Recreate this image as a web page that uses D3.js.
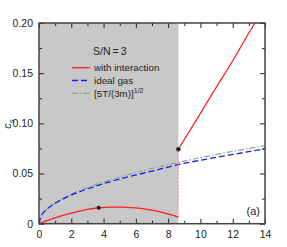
<!DOCTYPE html>
<html>
<head>
<meta charset="utf-8">
<script src="https://cdn.jsdelivr.net/npm/d3@7"></script>
<style>
  body { margin: 0; background: #fff; }
  text { font-family: "Liberation Sans", Arial, sans-serif; }
</style>
</head>
<body>
<div id="chart"></div>
<script>
var tCrit = 8.63;

var interTempLow = [0, 0.5, 1, 1.5, 2, 2.5, 3, 3.7, 4.5, 5.2, 6, 6.8, 7.5, 8.1, 8.63];
var interSpeedLow = [0, 0.0030, 0.0058, 0.0083, 0.0106, 0.0126, 0.0143, 0.0159, 0.0166, 0.0166, 0.0157, 0.0140, 0.0118, 0.0092, 0.0065];

var interTempHigh = [8.63, 10, 11, 12, 13, 13.5];
var interSpeedHigh = [0.0742, 0.1100, 0.1365, 0.1624, 0.1900, 0.2035];

var gasTemp = [0, 0.1, 0.25, 0.5, 1, 1.5, 2, 3, 4, 5, 6, 7, 8.63, 10, 11, 12, 13, 14];
var idealSpeed = [0, 0.0068, 0.0105, 0.0146, 0.0204, 0.0248, 0.0285, 0.0347, 0.0399, 0.0445, 0.0486, 0.0524, 0.0590, 0.0632, 0.0662, 0.0690, 0.0718, 0.0745];
var sqrtSpeed = [0, 0.0066, 0.0104, 0.0147, 0.0208, 0.0255, 0.0294, 0.0360, 0.0416, 0.0465, 0.0510, 0.0550, 0.0611, 0.0658, 0.0690, 0.0720, 0.0750, 0.0778];

var dotTemps = [3.7, 8.63];
var dotSpeeds = [0.0159, 0.0742];

var xTicks = [0, 2, 4, 6, 8, 10, 12, 14];
var yTicks = [0, 0.05, 0.10, 0.15, 0.20];
var yTickLabels = ["0", "0.05", "0.10", "0.15", "0.20"];

var legendNames = ["with interaction", "ideal gas", "[5T/(3m)]"];

drawChart();

function drawChart() {
    var svgWidth = 287;
    var svgHeight = 247;
    var margin = { top: 23, right: 22, bottom: 23.3, left: 39 };

    var chartWidth = svgWidth - margin.left - margin.right;
    var chartHeight = svgHeight - margin.top - margin.bottom;

    var svg = d3.select("#chart").append("svg")
        .attr("width", svgWidth)
        .attr("height", svgHeight);

    var chartGroup = svg.append("g")
        .attr("transform", `translate(${margin.left}, ${margin.top})`);

    var xScale = d3.scaleLinear().domain([0, 14]).range([0, chartWidth]);
    var yScale = d3.scaleLinear().domain([0, 0.2]).range([chartHeight, 0]);

    svg.append("defs").append("clipPath").attr("id", "clip")
        .append("rect").attr("width", chartWidth).attr("height", chartHeight);

    // shaded region below the critical temperature
    chartGroup.append("rect")
        .attr("x", xScale(0))
        .attr("y", 0)
        .attr("width", xScale(tCrit) - xScale(0))
        .attr("height", chartHeight)
        .attr("fill", "#c8c8c8");

    var plot = chartGroup.append("g").attr("clip-path", "url(#clip)");

    var line = d3.line()
        .x(d => xScale(d[0]))
        .y(d => yScale(d[1]))
        .curve(d3.curveMonotoneX);

    plot.append("path")
        .datum(gasTemp.map((t, i) => [t, sqrtSpeed[i]]))
        .attr("d", line)
        .attr("fill", "none")
        .attr("stroke", "#80b080")
        .attr("stroke-width", 1.2)
        .attr("stroke-dasharray", "6,2,1.5,2");

    plot.append("path")
        .datum(gasTemp.map((t, i) => [t, idealSpeed[i]]))
        .attr("d", line)
        .attr("fill", "none")
        .attr("stroke", "#1a1aff")
        .attr("stroke-width", 1.3)
        .attr("stroke-dasharray", "6,3");

    // jump at the transition
    plot.append("line")
        .attr("x1", xScale(tCrit)).attr("x2", xScale(tCrit))
        .attr("y1", yScale(dotSpeeds[1])).attr("y2", yScale(interSpeedLow[interSpeedLow.length - 1]))
        .attr("stroke", "#ff8080")
        .attr("stroke-width", 0.8)
        .attr("stroke-dasharray", "2,1.5");

    plot.append("path")
        .datum(interTempLow.map((t, i) => [t, interSpeedLow[i]]))
        .attr("d", line)
        .attr("fill", "none")
        .attr("stroke", "#ff2020")
        .attr("stroke-width", 1.3);

    plot.append("path")
        .datum(interTempHigh.map((t, i) => [t, interSpeedHigh[i]]))
        .attr("d", line)
        .attr("fill", "none")
        .attr("stroke", "#ff2020")
        .attr("stroke-width", 1.3);

    chartGroup.selectAll(".dot")
        .data(dotTemps)
        .enter()
        .append("circle")
        .attr("cx", d => xScale(d))
        .attr("cy", (d, i) => yScale(dotSpeeds[i]))
        .attr("r", 2)
        .attr("fill", "#111")
        .attr("stroke", (d, i) => i === 1 ? "#555" : "none");

    // axes, ticks pointing inward
    var xMinor = d3.range(1, 14, 2);
    var yMinor = [0.025, 0.075, 0.125, 0.175];

    function styleAxis(g) {
        g.select(".domain").remove();
        g.selectAll("line").attr("stroke", "#222").attr("stroke-width", 1);
        g.selectAll("text").attr("fill", "#222").style("font-size", "10.5px")
            .style("font-family", "'Liberation Sans', Arial, sans-serif");
    }

    chartGroup.append("g")
        .attr("transform", `translate(0, ${chartHeight})`)
        .call(d3.axisBottom(xScale).tickValues(xTicks).tickFormat(d3.format("d")).tickSize(-5).tickPadding(7))
        .call(styleAxis);
    chartGroup.append("g")
        .attr("transform", `translate(0, ${chartHeight})`)
        .call(d3.axisBottom(xScale).tickValues(xMinor).tickFormat("").tickSize(-3))
        .call(styleAxis);
    chartGroup.append("g")
        .call(d3.axisTop(xScale).tickValues(xTicks).tickFormat("").tickSize(-5))
        .call(styleAxis);
    chartGroup.append("g")
        .call(d3.axisTop(xScale).tickValues(xMinor).tickFormat("").tickSize(-3))
        .call(styleAxis);

    chartGroup.append("g")
        .call(d3.axisLeft(yScale).tickValues(yTicks).tickFormat((d, i) => yTickLabels[i]).tickSize(-5).tickPadding(6))
        .call(styleAxis);
    chartGroup.append("g")
        .call(d3.axisLeft(yScale).tickValues(yMinor).tickFormat("").tickSize(-3))
        .call(styleAxis);
    chartGroup.append("g")
        .attr("transform", `translate(${chartWidth}, 0)`)
        .call(d3.axisRight(yScale).tickValues(yTicks).tickFormat("").tickSize(-5))
        .call(styleAxis);
    chartGroup.append("g")
        .attr("transform", `translate(${chartWidth}, 0)`)
        .call(d3.axisRight(yScale).tickValues(yMinor).tickFormat("").tickSize(-3))
        .call(styleAxis);

    // frame
    chartGroup.append("rect")
        .attr("width", chartWidth)
        .attr("height", chartHeight)
        .attr("fill", "none")
        .attr("stroke", "#444")
        .attr("stroke-width", 1.5);

    // y label at the left edge
    var yLabel = svg.append("text")
        .attr("transform", "translate(11, 124) rotate(-90)")
        .attr("text-anchor", "middle")
        .attr("fill", "#222")
        .style("font-size", "11px")
        .style("font-style", "italic");
    yLabel.append("tspan").text("c");
    yLabel.append("tspan").attr("dy", 2.5).style("font-size", "8px").text("s");

    // legend
    var legend = chartGroup.append("g");
    legend.append("text")
        .attr("x", 54).attr("y", 31.5)
        .attr("fill", "#222")
        .style("font-size", "10.5px")
        .text("S/N\u2009=\u20093");

    var legendColors = ["#ff2020", "#1a1aff", "#80b080"];
    var legendDash = [null, "6,3", "6,2,1.5,2"];
    var legendWidths = [1.3, 1.3, 1.2];

    legendNames.forEach(function(name, i) {
        var ly = 44.7 + i * 12.8;
        legend.append("line")
            .attr("x1", 33).attr("x2", 51)
            .attr("y1", ly).attr("y2", ly)
            .attr("stroke", legendColors[i])
            .attr("stroke-width", legendWidths[i])
            .attr("stroke-dasharray", legendDash[i]);
        var t = legend.append("text")
            .attr("x", 55).attr("y", ly + 3.5)
            .attr("fill", "#222")
            .style("font-size", "9.8px")
            .text(name);
        if (i === 2) {
            t.append("tspan").attr("dy", -4).style("font-size", "7px").text("1/2");
        }
    });

    chartGroup.append("text")
        .attr("x", chartWidth - 5).attr("y", 192)
        .attr("text-anchor", "end")
        .attr("fill", "#222")
        .style("font-size", "11px")
        .text("(a)");
}
</script>
</body>
</html>
